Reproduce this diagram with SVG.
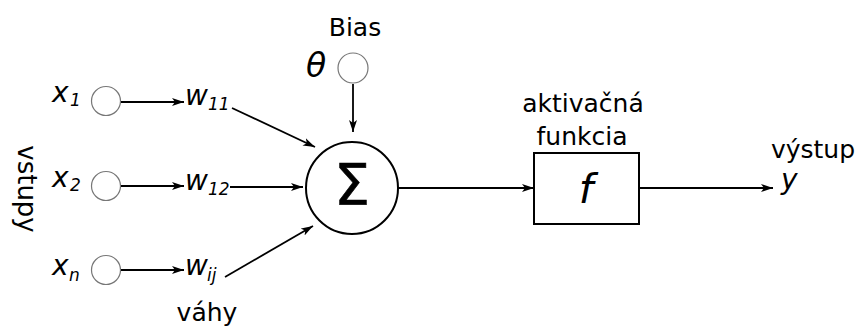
<svg xmlns="http://www.w3.org/2000/svg" width="859" height="327" viewBox="0 0 859 327">
<defs>
<marker id="ah" markerUnits="userSpaceOnUse" markerWidth="13" markerHeight="9" refX="12" refY="4.5" orient="auto">
<path d="M0,0.5 L12,4.5 L0,8.5 L3,4.5 z" fill="#000"/>
</marker>
</defs>
<style>
text{font-family:"DejaVu Sans","Liberation Sans",sans-serif;fill:#000}
.lbl{font-size:25px}
.it{font-style:italic}
.var{font-size:28px;font-style:italic}
.sub{font-size:17px;font-style:italic}
.in{fill:#fff;stroke:#777;stroke-width:1.2}
.con{stroke:#000;stroke-width:1.8;fill:none;marker-end:url(#ah)}
</style>
<rect width="859" height="327" fill="#fff"/>
<g id="x1"><circle class="in" cx="106" cy="101" r="14.5"/><text class="var" x="52" y="102">x</text><text class="sub" x="70" y="106">1</text></g>
<g id="x2"><circle class="in" cx="106" cy="186" r="14.5"/><text class="var" x="52" y="187">x</text><text class="sub" x="70" y="191">2</text></g>
<g id="xn"><circle class="in" cx="106" cy="270" r="14.5"/><text class="var" x="52" y="275">x</text><text class="sub" x="69" y="281">n</text></g>
<g id="w11"><text class="var" x="185" y="105">w</text><text class="sub" x="208" y="110">11</text></g>
<g id="w12"><text class="var" x="185" y="190">w</text><text class="sub" x="208" y="195">12</text></g>
<g id="wij"><text class="var" x="185" y="275">w</text><text class="sub" x="207" y="281">ij</text></g>
<g id="bias"><circle class="in" cx="353" cy="68" r="15"/><text class="lbl" x="355" y="36" text-anchor="middle">Bias</text><text class="it" x="316" y="77" font-size="33" text-anchor="middle">θ</text></g>
<g id="sum"><circle cx="352" cy="188" r="46" fill="#fff" stroke="#000" stroke-width="2"/><text x="352" y="205" font-size="57" text-anchor="middle" stroke="#000" stroke-width="0.6">Σ</text></g>
<g id="act"><rect x="534" y="153" width="105" height="71" fill="#fff" stroke="#000" stroke-width="2"/><text class="it" x="586" y="203" font-size="41" text-anchor="middle">f</text><text class="lbl" x="583" y="112" text-anchor="middle">aktivačná</text><text class="lbl" x="582" y="145" text-anchor="middle">funkcia</text></g>
<g id="out"><text class="lbl" x="813" y="158" text-anchor="middle">výstup</text><text class="var" x="781" y="189">y</text></g>
<g id="labels"><text class="lbl" x="207" y="321" text-anchor="middle">váhy</text><text transform="translate(18,189) rotate(90)" text-anchor="middle" font-size="26">vstupy</text></g>
<g id="connectors">
<line class="con" x1="121" y1="102" x2="184" y2="102"/>
<line class="con" x1="121" y1="186" x2="184" y2="186"/>
<line class="con" x1="121" y1="270" x2="184" y2="270"/>
<line class="con" x1="232" y1="108" x2="315" y2="147"/>
<line class="con" x1="230" y1="187" x2="303" y2="187"/>
<line class="con" x1="225" y1="277" x2="313" y2="226"/>
<line class="con" x1="353" y1="84" x2="353" y2="132"/>
<line class="con" x1="398" y1="188" x2="534" y2="188"/>
<line class="con" x1="639" y1="188" x2="773" y2="188"/>
</g>
</svg>
